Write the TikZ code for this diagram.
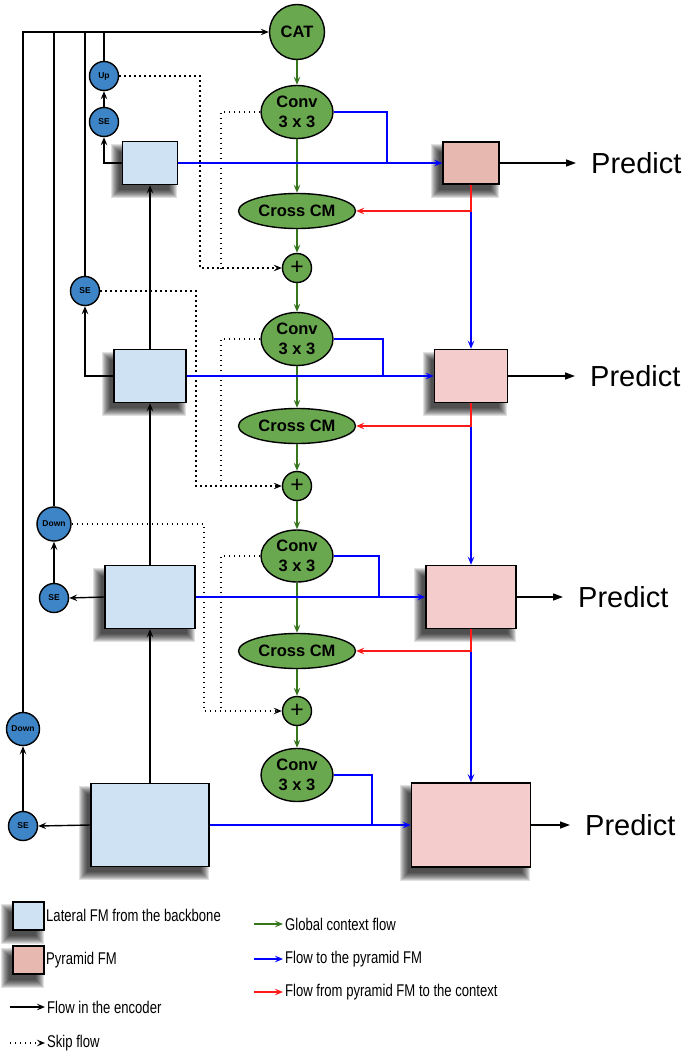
\documentclass[tikz,border=0pt]{standalone}
\usepackage{fontspec}
\setmainfont{Liberation Sans}
\newfontfamily\legfont[FakeStretch=0.77]{Liberation Sans}
\usetikzlibrary{arrows.meta,shapes.geometric,calc,backgrounds}
\definecolor{latfill}{HTML}{CFE2F3}
\definecolor{pyrtop}{HTML}{E6B8AF}
\definecolor{pyrfill}{HTML}{F4CCCC}
\definecolor{gfill}{HTML}{6AA84F}
\definecolor{gline}{HTML}{38761D}
\definecolor{bcirc}{HTML}{3D85C6}
\definecolor{bline}{HTML}{0000FF}
\definecolor{rline}{HTML}{FF1A1A}
\tikzset{
  tip/.style={-{Stealth[length=8pt,width=6.5pt,inset=3pt]}},
  lat/.style={rectangle, draw, line width=1.5pt, fill=latfill, inner sep=0pt},
  pyr/.style={rectangle, draw, line width=1.5pt, fill=pyrfill, inner sep=0pt},
  gell/.style={ellipse, draw, line width=1.4pt, fill=gfill, inner sep=0pt, align=center,
    font=\fontsize{16.5}{20}\selectfont\bfseries},
  gcirc/.style={circle, draw, line width=1.4pt, fill=gfill, inner sep=0pt},
  bc/.style={circle, draw, line width=1.4pt, fill=bcirc, inner sep=0pt, minimum size=29pt,
    font=\fontsize{8.5}{9}\selectfont\bfseries},
  enc/.style={line width=1.4pt, tip},
  encl/.style={line width=1.4pt},
  skip/.style={line width=1.4pt, dash pattern=on 1.4pt off 3.6pt, tip},
  skipl/.style={line width=1.4pt, dash pattern=on 1.4pt off 3.6pt},
  gar/.style={gline, line width=1.4pt, tip},
  bar/.style={bline, line width=1.8pt, tip},
  barl/.style={bline, line width=1.8pt},
  rar/.style={rline, line width=1.8pt, tip},
  pred/.style={anchor=west, inner xsep=15pt, inner ysep=0pt, font=\fontsize{29}{30}\selectfont},
  predar/.style={line width=1.3pt, -{Triangle[length=10pt,width=7pt]}},
  legtxt/.style={anchor=west, inner xsep=2pt, inner ysep=0pt, font=\legfont\fontsize{17}{18}\selectfont},
}
\begin{document}
\begin{tikzpicture}[x=1pt,y=-1pt]
\useasboundingbox (0,0) rectangle (686,1052);

% green column
\node[gcirc, minimum size=55pt, font=\fontsize{16.5}{20}\selectfont\bfseries] (cat) at (297,32) {CAT};
\node[gell, minimum width=72pt, minimum height=53pt] (conv1) at (297,112) {Conv\\3 x 3};
\node[gell, minimum width=117pt, minimum height=35pt] (cross1) at (297,211) {Cross CM};
\node[gcirc, minimum size=29pt, font=\fontsize{23}{23}\selectfont] (plus1) at (297,268) {+};
\node[gell, minimum width=72pt, minimum height=53pt] (conv2) at (297,339) {Conv\\3 x 3};
\node[gell, minimum width=117pt, minimum height=35pt] (cross2) at (297,426) {Cross CM};
\node[gcirc, minimum size=29pt, font=\fontsize{23}{23}\selectfont] (plus2) at (297,486) {+};
\node[gell, minimum width=72pt, minimum height=52pt] (conv3) at (297,556) {Conv\\3 x 3};
\node[gell, minimum width=117pt, minimum height=35pt] (cross3) at (297,651) {Cross CM};
\node[gcirc, minimum size=29pt, font=\fontsize{23}{23}\selectfont] (plus3) at (297,711) {+};
\node[gell, minimum width=72pt, minimum height=53pt] (conv4) at (297,775) {Conv\\3 x 3};

% lateral boxes
\node[lat, minimum width=55pt, minimum height=43pt] (L1) at (150,163) {};
\node[lat, minimum width=72pt, minimum height=53pt] (L2) at (150,376) {};
\node[lat, minimum width=90pt, minimum height=63pt] (L3) at (150,597) {};
\node[lat, minimum width=118pt, minimum height=83pt] (L4) at (150,825) {};

% pyramid boxes
\node[pyr, fill=pyrtop, minimum width=56pt, minimum height=42pt] (P1) at (471,163) {};
\node[pyr, minimum width=73pt, minimum height=53pt] (P2) at (471,376) {};
\node[pyr, minimum width=90pt, minimum height=63pt] (P3) at (471,597) {};
\node[pyr, minimum width=119pt, minimum height=84pt] (P4) at (471,825) {};

% legend boxes
\node[lat, minimum width=31pt, minimum height=28pt] (lg1) at (28.5,916) {};
\node[pyr, fill=pyrtop, minimum width=31pt, minimum height=28pt] (lg2) at (28.5,960) {};

% predict
\node[pred] (pr1) at (576,163) {Predict};
\node[pred] (pr2) at (575,376) {Predict};
\node[pred] (pr3) at (563,597) {Predict};
\node[pred] (pr4) at (570,825) {Predict};

% blue circles
\node[bc] (up) at (104,76) {Up};
\node[bc] (se1) at (104,122) {SE};
\node[bc] (se2) at (85,291) {SE};
\node[bc, minimum size=34pt] (down3) at (54,524) {Down};
\node[bc] (se3) at (54,598) {SE};
\node[bc, minimum size=33pt] (down4) at (23,729) {Down};
\node[bc] (se4) at (23,826) {SE};

% shadows
\begin{scope}[on background layer]
\foreach \n in {L1,L2,L3,L4,P1,P2,P3,P4,lg1,lg2}{
  \foreach \d in {5,4,3,2,1,0,-1,-2,-3}{
    \fill[black, opacity=0.12] ($(\n.south west)+(-6-\d,8+\d)$) rectangle ($(\n.north east)+(-6+\d,8-\d)$);
  }
}
\end{scope}

% encoder flow
\draw[enc] (down4.north) |- (cat.west);
\draw[encl] (down3.north) -- (down3.north |- cat.west);
\draw[encl] (se2.north) -- (se2.north |- cat.west);
\draw[encl] (up.north) -- (up.north |- cat.west);
\draw[enc] (se1) -- (up);
\draw[enc] (L1.west) -| (se1.south);
\draw[enc] (L2.west) -| (se2.south);
\draw[enc] (L3.west) -- (se3.east);
\draw[enc] (se3) -- (down3);
\draw[enc] (L4.west) -- (se4.east);
\draw[enc] (se4) -- (down4);
\draw[enc] (L4.north) -- (L3.south);
\draw[enc] (L3.north) -- (L2.south);
\draw[enc] (L2.north) -- (L1.south);

% skip flow
\coordinate (sk1a) at (200,268);
\coordinate (sk1b) at (221,268);
\coordinate (sk2a) at (196,486);
\coordinate (sk2b) at (221,486);
\coordinate (sk3a) at (204,711);
\coordinate (sk3b) at (221,711);
\draw[skip] (up.east) -| (sk1a) -- (plus1.west);
\draw[skipl] (conv1.west) -| (sk1b);
\draw[skip] (se2.east) -| (sk2a) -- (plus2.west);
\draw[skipl] (conv2.west) -| (sk2b);
\draw[skip] (down3.east) -| (sk3a) -- (plus3.west);
\draw[skipl] (conv3.west) -| (sk3b);

% global context flow
\draw[gar] (cat) -- (conv1);
\draw[gar] (conv1) -- (cross1);
\draw[gar] (cross1) -- (plus1);
\draw[gar] (plus1) -- (conv2);
\draw[gar] (conv2) -- (cross2);
\draw[gar] (cross2) -- (plus2);
\draw[gar] (plus2) -- (conv3);
\draw[gar] (conv3) -- (cross3);
\draw[gar] (cross3) -- (plus3);
\draw[gar] (plus3) -- (conv4);

% flow to pyramid
\coordinate (j1) at (387,163);
\coordinate (j2) at (383,376);
\coordinate (j3) at (379,597);
\coordinate (j4) at (372,825);
\draw[bar] (L1.east) -- (P1.west);
\draw[barl] (conv1.east) -| (j1);
\draw[bar] (L2.east) -- (P2.west);
\draw[barl] (conv2.east) -| (j2);
\draw[bar] (L3.east) -- (P3.west);
\draw[barl] (conv3.east) -| (j3);
\draw[bar] (L4.east) -- (P4.west);
\draw[barl] (conv4.east) -| (j4);
\draw[bar] (P1.south) -- (P2.north);
\draw[bar] (P2.south) -- (P3.north);
\draw[bar] (P3.south) -- (P4.north);

% pyramid to context
\draw[rar] (P1.south) |- (cross1.east);
\draw[rar] (P2.south) |- (cross2.east);
\draw[rar] (P3.south) |- (cross3.east);

% predict
\draw[predar] (P1.east) -- (pr1.west);
\draw[predar] (P2.east) -- (pr2.west);
\draw[predar] (P3.east) -- (pr3.west);
\draw[predar] (P4.east) -- (pr4.west);

% legend
\node[legtxt] (t1) at (44,915) {Lateral FM from the backbone};
\node[legtxt] (t2) at (44,960) {Pyramid FM};
\node[legtxt] (t3) at (45,1007) {Flow in the encoder};
\node[legtxt] (t4) at (45,1043) {Skip flow};
\node[legtxt] (t5) at (283,924) {Global context flow};
\node[legtxt] (t6) at (283,959) {Flow to the pyramid FM};
\node[legtxt] (t7) at (283,992) {Flow from pyramid FM to the context};
\coordinate (c3) at (10,1007);
\coordinate (c4) at (10,1043);
\coordinate (c5) at (254,924);
\coordinate (c6) at (254,959);
\coordinate (c7) at (254,992);
\draw[enc] (c3) -- (t3.west);
\draw[skip] (c4) -- (t4.west);
\draw[gar] (c5) -- (t5.west);
\draw[bar] (c6) -- (t6.west);
\draw[rar] (c7) -- (t7.west);
\end{tikzpicture}
\end{document}
